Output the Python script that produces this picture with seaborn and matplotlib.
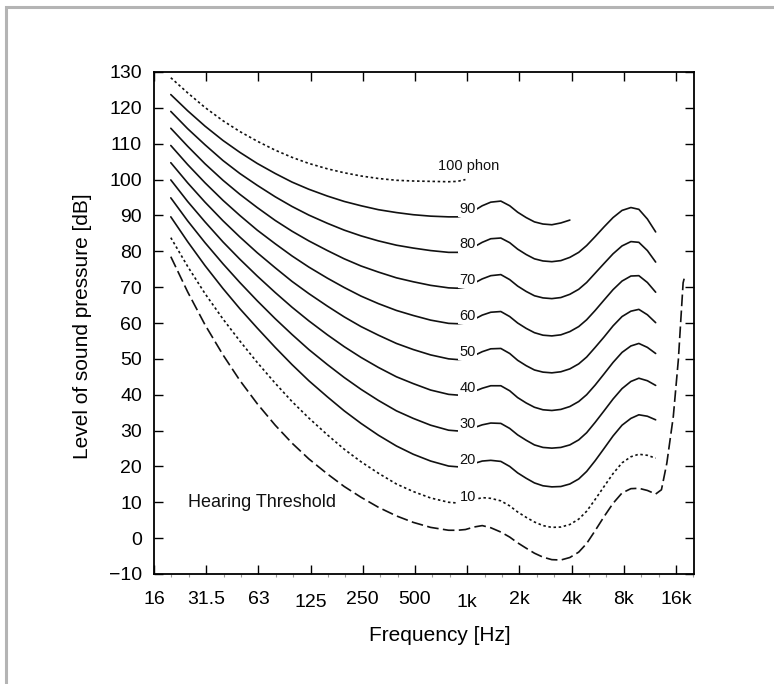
"""Equal-loudness contours (phon) with the hearing threshold, log-frequency axis."""

import matplotlib
matplotlib.use("Agg")
import matplotlib.pyplot as plt
import pandas as pd
import seaborn as sns
from matplotlib.patches import Rectangle
from matplotlib.ticker import FixedFormatter, FixedLocator, NullFormatter

# third octaves up to 800 Hz, sixth octaves above
FREQS = [20, 25, 31.5, 40, 50, 63, 80, 100, 125, 160, 200, 250, 315, 400, 500,
         630, 800, 900, 1000, 1120, 1250, 1400, 1600, 1800, 2000, 2240, 2500,
         2800, 3150, 3550, 4000, 4500, 5000, 5600, 6300, 7100, 8000, 9000,
         10000, 11200, 12500]

# hearing threshold, plus its steep rise above 12.5 kHz
THRESHOLD = [78.5, 68.7, 59.5, 51.1, 44.0, 37.5, 31.5, 26.5, 22.1, 17.9, 14.4,
             11.4, 8.6, 6.2, 4.4, 3.0, 2.2, 2.2, 2.4, 3.1, 3.5, 2.9, 1.7, 0.3,
             -1.3, -2.8, -4.2, -5.3, -6.0, -6.1, -5.4, -3.9, -1.5, 2.1, 6.0,
             9.7, 12.6, 13.8, 13.9, 13.3, 12.3]
THRESHOLD_EXT_FREQS = [13500, 14500, 15800, 16900, 18000, 18300]
THRESHOLD_EXT = [13.5, 20.9, 33.9, 49.8, 71.2, 72.6]

PHON_10 = [83.8, 75.8, 68.2, 61.1, 55.0, 49.0, 43.2, 38.1, 33.5, 28.8, 24.8,
           21.3, 18.1, 15.1, 13.0, 11.2, 10.0, 9.8, 10.0, 10.7, 11.3, 11.1,
           10.4, 9.0, 7.3, 5.8, 4.5, 3.5, 3.0, 3.1, 3.8, 5.3, 7.5, 10.8, 14.4,
           18.0, 21.0, 22.7, 23.4, 23.1, 22.3]
PHON_20 = [89.6, 82.7, 76.0, 69.6, 64.0, 58.6, 53.2, 48.4, 43.9, 39.4, 35.5,
           32.0, 28.7, 25.7, 23.4, 21.5, 20.1, 19.9, 20.0, 20.8, 21.5, 21.7,
           21.4, 20.0, 18.2, 16.7, 15.4, 14.6, 14.3, 14.4, 15.1, 16.5, 18.6,
           21.6, 25.0, 28.5, 31.5, 33.4, 34.4, 34.0, 33.0]
PHON_30 = [94.9, 88.5, 82.4, 76.5, 71.3, 66.2, 61.2, 56.8, 52.6, 48.4, 44.8,
           41.5, 38.4, 35.5, 33.4, 31.5, 30.1, 29.9, 30.0, 30.8, 31.6, 32.1,
           32.0, 30.6, 28.8, 27.3, 26.0, 25.3, 25.1, 25.3, 26.0, 27.4, 29.4,
           32.3, 35.5, 38.8, 41.7, 43.7, 44.6, 43.9, 42.6]
PHON_40 = [99.9, 93.9, 88.2, 82.6, 77.8, 73.1, 68.5, 64.4, 60.6, 56.7, 53.4,
           50.4, 47.6, 45.0, 43.1, 41.3, 40.1, 39.9, 40.0, 40.9, 41.8, 42.5,
           42.5, 41.1, 39.2, 37.7, 36.5, 35.8, 35.6, 35.9, 36.7, 38.1, 40.0,
           42.7, 45.8, 49.0, 51.8, 53.6, 54.3, 53.2, 51.5]
PHON_50 = [104.7, 99.1, 93.7, 88.5, 84.0, 79.6, 75.4, 71.6, 68.2, 64.7, 61.7,
           59.0, 56.6, 54.3, 52.6, 51.1, 50.0, 49.8, 50.0, 50.9, 52.0, 52.8,
           52.9, 51.5, 49.6, 48.1, 46.9, 46.3, 46.1, 46.4, 47.2, 48.6, 50.5,
           53.2, 56.1, 59.2, 61.8, 63.3, 63.8, 62.3, 60.1]
PHON_60 = [109.5, 104.2, 99.1, 94.2, 90.0, 85.9, 82.1, 78.7, 75.6, 72.5, 69.9,
           67.5, 65.4, 63.5, 62.1, 60.8, 59.9, 59.8, 60.0, 61.0, 62.2, 63.0,
           63.2, 61.8, 60.0, 58.5, 57.3, 56.6, 56.4, 56.7, 57.6, 59.0, 60.9,
           63.5, 66.4, 69.3, 71.7, 73.1, 73.2, 71.3, 68.6]
PHON_70 = [114.3, 109.3, 104.4, 99.8, 95.9, 92.2, 88.6, 85.6, 82.9, 80.2, 77.9,
           75.9, 74.2, 72.6, 71.5, 70.5, 69.8, 69.7, 70.0, 71.1, 72.3, 73.2,
           73.5, 72.1, 70.3, 68.8, 67.6, 67.0, 66.8, 67.1, 68.0, 69.4, 71.3,
           73.9, 76.6, 79.3, 81.5, 82.7, 82.5, 80.2, 77.0]
PHON_80 = [119.0, 114.2, 109.7, 105.3, 101.7, 98.4, 95.2, 92.5, 90.1, 87.8,
           85.9, 84.3, 82.9, 81.7, 80.9, 80.2, 79.7, 79.7, 80.0, 81.2, 82.5,
           83.5, 83.7, 82.4, 80.6, 79.1, 77.9, 77.3, 77.1, 77.4, 78.3, 79.7,
           81.6, 84.1, 86.8, 89.4, 91.4, 92.2, 91.7, 89.0, 85.4]
# 90 phon stops at 4 kHz, 100 phon at 1 kHz
PHON_90 = [123.7, 119.2, 114.9, 110.9, 107.6, 104.5, 101.7, 99.3, 97.3, 95.4,
           93.9, 92.7, 91.6, 90.8, 90.2, 89.8, 89.6, 89.6, 90.0, 91.3, 92.7,
           93.7, 94.0, 92.7, 90.9, 89.4, 88.2, 87.6, 87.4, 87.9, 88.7]
PHON_100 = [128.4, 124.2, 120.1, 116.4, 113.4, 110.7, 108.2, 106.2, 104.5,
            103.0, 101.9, 101.0, 100.3, 99.8, 99.6, 99.5, 99.4, 99.5, 100.0]

PHON_LEVELS = [10, 20, 30, 40, 50, 60, 70, 80, 90]

XTICKS = [16, 32, 64, 128, 256, 512, 1024, 2048, 4096, 8192, 16384]
XTICK_LABELS = ["16", "31.5", "63", "125", "250", "500", "1k", "2k", "4k",
                "8k", "16k"]
YTICKS = [-10, 0, 10, 20, 30, 40, 50, 60, 70, 80, 90, 100, 110, 120, 130]

INK = "#111111"


def main():
    sns.set_theme(style="ticks")
    plt.rcParams["font.family"] = ["Liberation Sans", "DejaVu Sans"]

    curves = {
        "threshold": (FREQS + THRESHOLD_EXT_FREQS, THRESHOLD + THRESHOLD_EXT),
        "10": (FREQS, PHON_10), "20": (FREQS, PHON_20), "30": (FREQS, PHON_30),
        "40": (FREQS, PHON_40), "50": (FREQS, PHON_50), "60": (FREQS, PHON_60),
        "70": (FREQS, PHON_70), "80": (FREQS, PHON_80),
        "90": (FREQS[:len(PHON_90)], PHON_90),
        "100": (FREQS[:len(PHON_100)], PHON_100),
    }
    df = pd.concat([pd.DataFrame({"freq": f, "spl": v, "curve": name})
                    for name, (f, v) in curves.items()], ignore_index=True)
    dashes = {name: "" for name in curves}
    dashes["threshold"] = (7, 2.6)
    dashes["10"] = (1.5, 1.6)
    dashes["100"] = (1.5, 1.6)

    fig = plt.figure(figsize=(7.74, 6.84), dpi=100)
    fig.patch.set_facecolor("white")
    ax = fig.add_axes([154 / 774, 1 - 574 / 684, 540 / 774, 502 / 684])

    sns.lineplot(data=df, x="freq", y="spl", style="curve", dashes=dashes,
                 color=INK, linewidth=1.2, estimator=None, errorbar=None,
                 legend=False, ax=ax)

    ax.set_xscale("log", base=2)
    ax.set_xlim(16, 20800)
    ax.set_ylim(-10, 130)

    ax.xaxis.set_major_locator(FixedLocator(XTICKS))
    ax.xaxis.set_major_formatter(FixedFormatter(XTICK_LABELS))
    minor = [16 * 2 ** (k / 3) for k in range(1, 32) if k % 3]
    ax.xaxis.set_minor_locator(FixedLocator(minor))
    ax.xaxis.set_minor_formatter(NullFormatter())
    ax.yaxis.set_major_locator(FixedLocator(YTICKS))

    for side in ax.spines.values():
        side.set_linewidth(1.3)
        side.set_color("black")
    ax.tick_params(which="major", direction="in", top=True, right=True,
                   length=6.5, width=1.0, color="black", labelsize=14,
                   labelcolor="black")
    ax.tick_params(axis="x", which="major", pad=12.3)
    ax.tick_params(axis="y", which="major", pad=8.6)
    ax.tick_params(axis="x", which="minor", bottom=True, top=False,
                   direction="out", length=2.2, width=0.8, color="#999999")
    ax.tick_params(axis="y", which="minor", left=False, right=False)
    # a couple of the original frequency labels sit a little lower
    for i in (3, 6):
        ax.xaxis.get_major_ticks()[i].set_pad(14.7)

    ax.set_xlabel("Frequency [Hz]", fontsize=15, color="black")
    ax.set_ylabel("Level of sound pressure [dB]", fontsize=15, color="black")
    ax.xaxis.set_label_coords(0.53, -0.1036)
    ax.yaxis.set_label_coords(-0.1148, 0.493)

    for level in PHON_LEVELS:
        ax.text(1030, level + (1.6 if level == 10 else 1.9), str(level),
                ha="center", va="center", fontsize=10.5, color=INK,
                bbox=dict(facecolor="white", edgecolor="none", pad=0.8))
    ax.text(1040, 103.9, "100 phon", ha="center", va="center", fontsize=10.5,
            color=INK)
    ax.text(25.2, 9.9, "Hearing Threshold", ha="left", va="center",
            fontsize=13, color=INK)

    fig.patches.append(Rectangle((6 / 774, -0.1), 1.2, 1.1 - 7 / 684,
                                 transform=fig.transFigure, fill=False,
                                 edgecolor="#b4b4b4", linewidth=2.2))

    fig.savefig("out.png", dpi=100, facecolor="white")
    plt.close(fig)


if __name__ == "__main__":
    main()
